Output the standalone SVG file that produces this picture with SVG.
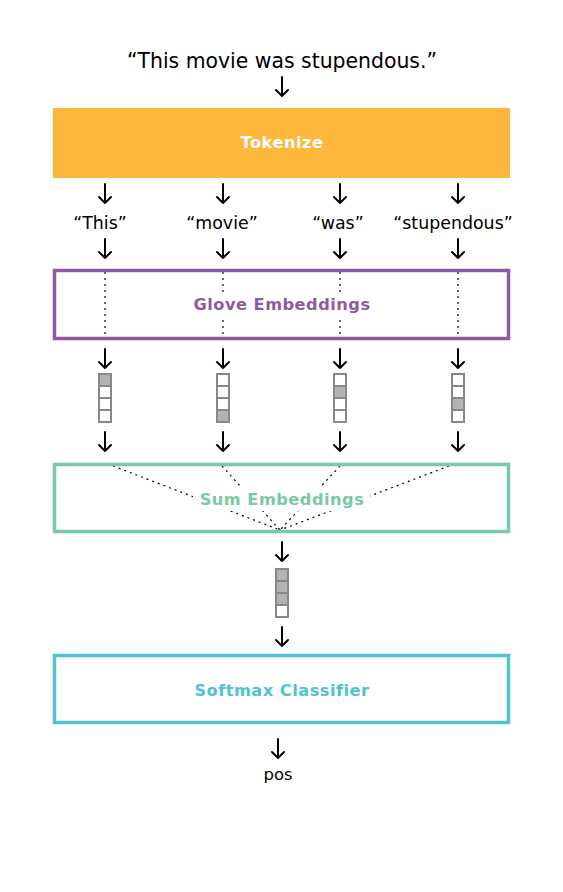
<svg xmlns="http://www.w3.org/2000/svg" width="563" height="892" viewBox="0 0 563 892">
<style>
.t{font-family:"DejaVu Sans","Liberation Sans",sans-serif;fill:#000;text-anchor:middle}
.lbl{font-family:"DejaVu Sans","Liberation Sans",sans-serif;font-weight:bold;text-anchor:middle;font-size:16.2px;letter-spacing:0.5px}
.arr{stroke:#000;stroke-width:2;fill:none;stroke-linecap:round;stroke-linejoin:round}
.dot{stroke:#000;stroke-width:1.2;stroke-dasharray:2 4;fill:none}
.c{stroke:#888;stroke-width:2;fill:#fff}
.f{fill:#b3b3b3}
</style>
<defs>
<g id="ar"><path class="arr" d="M0,0V19M-6,13L0,19L6,13"/></g>
<g id="vec">
<rect class="c" x="-6" y="0" width="12" height="12"/>
<rect class="c" x="-6" y="12" width="12" height="12"/>
<rect class="c" x="-6" y="24" width="12" height="12"/>
<rect class="c" x="-6" y="36" width="12" height="12"/>
</g>
</defs>
<rect width="563" height="892" fill="#fff"/>
<g id="input"><text class="t" x="282" y="68" font-size="20.4">“This movie was stupendous.”</text></g>
<g id="tokenize"><rect x="53" y="108" width="457" height="70" fill="#FDB73A"/><text class="lbl" x="282" y="148" fill="#fff">Tokenize</text></g>
<g id="tokens">
<text class="t" x="100" y="229" font-size="17.4">“This”</text>
<text class="t" x="222" y="229" font-size="17.4">“movie”</text>
<text class="t" x="338" y="229" font-size="17.4">“was”</text>
<text class="t" x="453" y="229" font-size="17.4">“stupendous”</text>
</g>
<g id="connectors">
<use href="#ar" x="282" y="77"/>
<use href="#ar" x="105" y="184"/><use href="#ar" x="223" y="184"/><use href="#ar" x="340" y="184"/><use href="#ar" x="458" y="184"/>
<use href="#ar" x="105" y="239"/><use href="#ar" x="223" y="239"/><use href="#ar" x="340" y="239"/><use href="#ar" x="458" y="239"/>
<path class="dot" d="M105,272V344M223,272V344M340,272V344M458,272V344"/>
<use href="#ar" x="105" y="349"/><use href="#ar" x="223" y="349"/><use href="#ar" x="340" y="349"/><use href="#ar" x="458" y="349"/>
<use href="#ar" x="105" y="432"/><use href="#ar" x="223" y="432"/><use href="#ar" x="340" y="432"/><use href="#ar" x="458" y="432"/>
<path class="dot" d="M113,466L280,530M222,466L280,530M340,466L280,530M449,466L280,530"/>
<use href="#ar" x="282" y="542"/>
<use href="#ar" x="282" y="627"/>
<use href="#ar" x="278" y="739"/>
</g>
<g id="glove"><rect x="54.5" y="270.5" width="454" height="68" fill="none" stroke="#8E5BA3" stroke-width="3.5"/><rect x="188" y="292" width="187" height="24" fill="#fff"/><text class="lbl" x="282" y="310" fill="#8E5BA3">Glove Embeddings</text></g>
<g id="vectors">
<use href="#vec" x="105" y="374"/><rect class="f" x="100" y="375" width="10" height="10"/>
<use href="#vec" x="223" y="374"/><rect class="f" x="218" y="411" width="10" height="10"/>
<use href="#vec" x="340" y="374"/><rect class="f" x="335" y="387" width="10" height="10"/>
<use href="#vec" x="458" y="374"/><rect class="f" x="453" y="399" width="10" height="10"/>
</g>
<g id="sum"><rect x="54.5" y="464.5" width="454" height="67" fill="none" stroke="#7BC8A4" stroke-width="3.5"/><rect x="193" y="487" width="177" height="24" fill="#fff"/><text class="lbl" x="282" y="505" fill="#7BC8A4">Sum Embeddings</text></g>
<g id="sumvec"><use href="#vec" x="282" y="569"/><rect class="f" x="277" y="570" width="10" height="10"/><rect class="f" x="277" y="582" width="10" height="10"/><rect class="f" x="277" y="594" width="10" height="10"/></g>
<g id="softmax"><rect x="54.5" y="655.5" width="454" height="67" fill="none" stroke="#4FC3D0" stroke-width="3.5"/><text class="lbl" x="282" y="696" fill="#4FC3D0">Softmax Classifier</text></g>
<g id="output"><text class="t" x="278" y="780" font-size="16.5">pos</text></g>
</svg>
